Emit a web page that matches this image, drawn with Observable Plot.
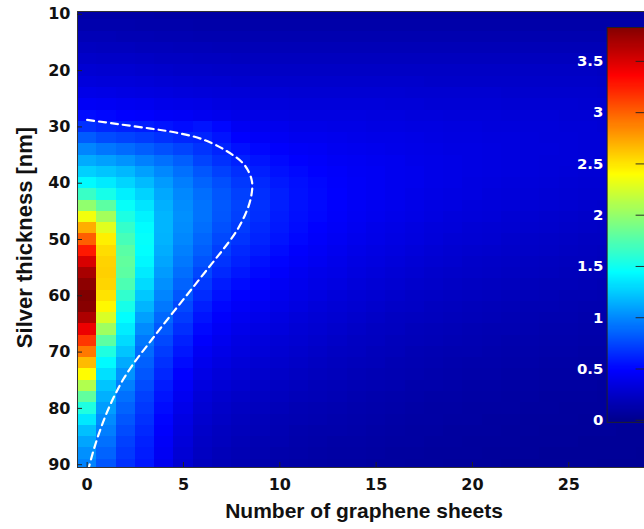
<!DOCTYPE html>
<html><head><meta charset="utf-8">
<script src="https://cdn.jsdelivr.net/npm/d3@7"></script>
<script src="https://cdn.jsdelivr.net/npm/@observablehq/plot@0.6"></script>
<style>
html,body{margin:0;padding:0;background:#fff;overflow:hidden;}
#wrap{position:relative;width:644px;height:529px;overflow:hidden;}
#cb{position:absolute;left:560px;top:0;}
</style></head><body><div id="wrap"><div id="main"></div><div id="cb"></div></div>
<script>
// number of graphene sheets (columns) and silver thickness in nm (rows)
const sheets = [0,1,2,3,4,5,6,7,8,9,10,11,12,13,14,15,16,17,18,19,20,21,22,23,24,25,26,27,28,29];
const thickness = [10,12,14,16,18,20,22,24,26,28,30,32,34,36,38,40,42,44,46,48,50,52,54,56,58,60,62,64,66,68,70,72,74,76,78,80,82,84,86,88,90];
// values x100, one list per sheet count, listed from thickness 10 to 90 nm
const intensity = [
 [10,13,17,21,25,29,33,38,44,52, 66,82,98,112,126,142,165,198,235,270, 300,326,350,368,378,383,380,366,342,315, 290,265,240,210,180,155,135,120,110,102, 97],
 [10,13,17,20,24,28,32,37,43,50, 62,76,92,108,122,136,152,178,205,228, 245,252,256,257,255,250,242,225,203,178, 155,142,132,122,114,107,100,95,90,85, 80],
 [10,13,16,20,24,28,32,36,42,48, 60,73,88,103,117,128,138,146,154,163, 170,177,180,178,172,162,152,144,137,130, 122,112,103,96,90,85,80,76,72,69, 66],
 [10,12,16,19,23,27,31,35,41,47, 58,70,83,96,108,118,127,134,139,143, 145,144,141,136,130,123,116,108,100,93, 88,84,80,76,72,69,66,63,60,58, 56],
 [9,12,15,19,22,26,30,34,39,45, 55,66,78,90,99,106,111,114,116,116, 115,113,110,106,102,98,93,87,81,75, 70,66,62,58,55,52,49,47,45,43, 41],
 [9,12,15,18,22,25,29,33,38,44, 52,62,73,83,90,95,99,101,102,101, 99,96,93,89,85,80,75,70,65,60, 56,52,48,45,42,39,36,34,32,30, 28],
 [9,11,14,18,21,25,28,32,37,42, 55,61,67,73,80,85,89,91,91,89, 86,83,79,74,69,64,59,55,51,47, 43,40,37,34,31,29,27,25,23,22, 20],
 [9,11,14,17,21,24,28,31,35,40, 50,55,61,66,72,77,80,81,80,78, 75,71,67,63,58,54,50,47,44,41, 38,35,32,30,27,25,23,21,20,18, 17],
 [9,11,14,17,20,24,27,31,34,38, 43,48,54,60,65,69,72,73,72,70, 67,63,60,56,52,48,45,42,39,36, 34,31,29,27,24,22,20,19,17,16, 15],
 [9,11,14,17,20,23,27,30,33,37, 41,45,50,55,59,63,65,66,65,63, 61,58,54,51,48,45,42,39,36,33, 31,28,26,24,22,20,18,17,15,14, 13],
 [9,11,14,17,20,23,26,30,33,36, 40,43,47,51,54,57,59,59,58,57, 55,52,49,46,43,40,38,35,33,30, 28,26,24,22,20,18,16,15,14,12, 11],
 [9,11,14,17,20,23,26,29,32,35, 38,41,45,48,51,53,54,54,53,52, 50,47,45,42,40,37,35,32,30,28, 26,24,22,20,18,16,15,13,12,11, 10],
 [9,11,14,17,20,23,26,29,32,35, 38,41,44,46,48,50,51,51,50,48, 46,44,42,39,37,35,32,30,28,26, 24,22,20,18,17,15,14,12,11,10, 9],
 [9,11,14,17,20,23,26,29,32,35, 37,40,42,44,46,47,48,47,46,45, 43,41,39,37,35,32,30,28,26,24, 22,20,19,17,16,14,13,12,10,9, 8],
 [9,11,14,17,20,23,26,29,32,35, 37,39,41,43,44,45,45,44,43,42, 40,38,36,34,32,30,28,26,24,22, 21,19,17,16,14,13,12,11,10,9, 8],
 [9,11,14,17,20,23,26,29,32,34, 36,38,40,42,43,43,43,42,41,39, 38,36,34,32,30,28,26,24,22,21, 19,18,16,15,13,12,11,10,9,8, 7],
 [9,11,14,17,20,23,26,29,31,34, 36,38,39,41,41,41,41,40,39,37, 36,34,32,30,28,26,24,22,21,19, 18,16,15,14,12,11,10,9,8,7, 7],
 [9,11,14,17,20,23,26,28,31,33, 35,37,38,39,40,40,39,38,37,35, 34,32,30,28,26,24,23,21,19,18, 16,15,14,12,11,10,9,8,8,7, 6],
 [9,11,14,17,20,23,25,28,30,33, 35,36,37,38,38,38,37,36,35,33, 32,30,28,26,25,23,21,20,18,17, 15,14,13,12,10,9,9,8,7,6, 6],
 [9,11,14,17,20,23,25,28,30,32, 34,35,36,37,37,37,36,35,33,32, 30,28,27,25,23,22,20,19,17,16, 14,13,12,11,10,9,8,7,7,6, 5],
 [9,11,14,17,20,23,25,28,30,32, 34,35,36,36,36,35,35,33,32,30, 29,27,25,24,22,21,19,18,16,15, 14,12,11,10,9,8,8,7,6,6, 5],
 [9,11,14,17,20,23,25,28,30,32, 33,34,35,35,35,34,33,32,31,29, 28,26,24,23,21,20,18,17,15,14, 13,12,11,10,9,8,7,7,6,5, 5],
 [9,11,14,17,20,23,25,27,29,31, 33,34,34,34,34,33,32,31,29,28, 26,25,23,22,20,19,17,16,15,13, 12,11,10,9,8,8,7,6,6,5, 4],
 [9,11,14,17,20,23,25,27,29,31, 32,33,33,33,33,32,31,30,28,27, 25,24,22,21,19,18,16,15,14,13, 12,11,10,9,8,7,6,6,5,5, 4],
 [9,11,14,17,20,23,25,27,29,31, 32,32,33,32,32,31,30,29,27,26, 24,23,21,20,18,17,16,14,13,12, 11,10,9,8,7,7,6,5,5,4, 4],
 [9,11,14,17,20,23,25,27,29,30, 31,32,32,32,31,30,29,28,26,25, 23,22,20,19,18,16,15,14,13,12, 11,10,9,8,7,6,6,5,5,4, 4],
 [9,11,14,17,20,23,25,27,28,30, 31,31,31,31,30,29,28,27,25,24, 22,21,20,18,17,16,14,13,12,11, 10,9,8,8,7,6,5,5,4,4, 4],
 [9,11,14,17,20,22,24,26,28,29, 30,31,31,30,30,29,28,26,25,23, 22,20,19,18,16,15,14,13,12,11, 10,9,8,7,6,6,5,5,4,4, 3],
 [9,11,14,17,20,22,24,26,28,29, 30,30,30,30,29,28,27,26,24,23, 21,20,18,17,16,15,13,12,11,10, 9,9,8,7,6,5,5,4,4,4, 3],
 [9,11,14,17,20,22,24,26,27,29, 29,30,30,29,29,28,26,25,24,22, 21,19,18,17,15,14,13,12,11,10, 9,8,7,7,6,5,5,4,4,3, 3]
];
// dashed white contour
const curveSheets = [0, 1.6, 3.3, 4.6, 5.9, 7.2, 8.15, 8.55, 8.5, 8.2, 7.7, 7.05, 6.4, 5.75, 5.1, 4.45, 3.8, 3.15, 2.5, 1.9, 1.4, 0.98, 0.62, 0.32, 0.08];
const curveThick = [28.75, 29.5, 30.3, 31.0, 32.1, 34.2, 36.7, 39.6, 42.6, 45.6, 48.8, 51.8, 54.6, 57.4, 60.2, 63.0, 65.8, 68.7, 71.6, 74.7, 77.9, 81.1, 84.4, 87.6, 90.6];

const xTicks = [0, 5, 10, 15, 20, 25];
const yTicks = [10, 20, 30, 40, 50, 60, 70, 80, 90];
const cbTicks = [0, 0.5, 1, 1.5, 2, 2.5, 3, 3.5];
const xLabel = "Number of graphene sheets";
const yLabel = "Silver thickness [nm]";
const cMax = 3.83;

const jetStops = [0, 0.125, 0.375, 0.625, 0.875, 1];
const jetColors = ["#00008f", "#0000ff", "#00ffff", "#ffff00", "#ff0000", "#800000"];
const colorScale = {type: "linear", domain: jetStops.map(t => t * cMax), range: jetColors, interpolate: "rgb", clamp: true};

const cells = [];
sheets.forEach((s, i) => thickness.forEach((t, j) => cells.push({s, t, v: intensity[i][j] / 100})));
const curve = curveSheets.map((s, i) => ({s, t: curveThick[i]}));

const labelFont = "'Liberation Sans', Arial, Helvetica, sans-serif";
const tickFont = "'DejaVu Sans', Verdana, sans-serif";

const W = 644, H = 529, mL = 77, mT = 11, mB = 62;
const frameW = W - mL, frameH = H - mT - mB;

const main = Plot.plot({
  width: W, height: H,
  marginLeft: mL, marginRight: 0, marginTop: mT, marginBottom: mB,
  x: {domain: [-0.5, 28.93]},
  y: {domain: [9.5, 90.5], reverse: true},
  color: colorScale,
  style: {fontFamily: labelFont, background: "white", color: "#111"},
  marks: [
    Plot.rect(cells, {x1: d => d.s - 0.5, x2: d => d.s + 0.5, y1: d => d.t - 1, y2: d => d.t + 1, fill: "v", clip: true, shapeRendering: "crispEdges"}),
    Plot.line(curve, {x: "s", y: "t", stroke: "white", strokeWidth: 2.2, strokeDasharray: "7,5", curve: "catmull-rom", clip: true}),
    Plot.frame({stroke: "#333", strokeWidth: 1}),
    Plot.tickY(yTicks, {y: d => d, stroke: "#222", insetRight: frameW - 5}),
    Plot.tickX(xTicks, {x: d => d, stroke: "#222", insetTop: frameH - 5}),
    Plot.axisX({ticks: xTicks, tickSize: 0, tickPadding: 11, fontSize: 16, fontWeight: "bold", fontFamily: tickFont, label: null, tickFormat: d => String(d)}),
    Plot.axisY({ticks: yTicks, tickSize: 0, tickPadding: 7, fontSize: 16, fontWeight: "bold", fontFamily: tickFont, label: null, tickFormat: d => String(d)}),
    Plot.text([xLabel], {frameAnchor: "bottom", dy: 50, dx: 3, fontSize: 21, fontWeight: "bold"}),
    Plot.text([yLabel], {frameAnchor: "left", textAnchor: "middle", rotate: -90, dx: -53, dy: -2, fontSize: 22, fontWeight: "bold"})
  ]
});
document.getElementById("main").appendChild(main);

const cbSteps = d3.range(-0.02, cMax, 0.01);
const cb = Plot.plot({
  width: 90, height: 460,
  marginLeft: 50, marginRight: 0, marginTop: 29, marginBottom: 8,
  y: {domain: [-0.02, cMax]},
  color: colorScale,
  style: {background: "transparent", fontFamily: tickFont},
  marks: [
    Plot.rect(cbSteps, {y1: d => d, y2: d => d + 0.011, fill: d => d, shapeRendering: "crispEdges"}),
    Plot.frame({stroke: "#222", strokeWidth: 1}),
    Plot.tickY(cbTicks, {y: d => d, stroke: "#222", insetLeft: 31}),
    Plot.axisY({ticks: cbTicks, tickSize: 0, tickPadding: 4, fill: "white", fontSize: 16, fontWeight: "bold", label: null, tickFormat: d => String(d)})
  ]
});
document.getElementById("cb").appendChild(cb);
</script>
</body></html>
